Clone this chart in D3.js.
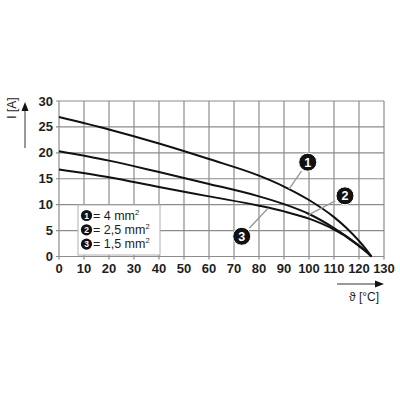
<!DOCTYPE html>
<html>
<head>
<meta charset="utf-8">
<script src="https://cdn.jsdelivr.net/npm/d3@7"></script>
<style>
  html, body { margin: 0; padding: 0; background: #fff; }
  svg { display: block; font-family: "Liberation Sans", Arial, sans-serif; }
</style>
</head>
<body>
<div id="chart"></div>
<script>
// temperature points (°C) and current (A) per conductor cross-section
const temps = [0, 20, 40, 60, 80, 90, 100, 110, 115, 120, 123, 125];
const current4mm = [26.9, 24.5, 21.8, 18.8, 15.6, 13.5, 10.9, 7.6, 5.5, 3.0, 1.3, 0];
const current25mm = [20.3, 18.5, 16.3, 14.0, 11.6, 10.1, 8.2, 5.5, 3.9, 2.1, 0.9, 0];
const current15mm = [16.8, 15.3, 13.4, 11.6, 9.8, 8.7, 7.3, 5.2, 3.8, 2.0, 0.85, 0];

const xTicks = [0, 10, 20, 30, 40, 50, 60, 70, 80, 90, 100, 110, 120, 130];
const yTicks = [0, 5, 10, 15, 20, 25, 30];

const legendLabels = ["4 mm", "2,5 mm", "1,5 mm"];
// curve markers: circle position and leader end, in data units
const markers = [
  { id: "1", cx: 99.5, cy: 18.2, lx: 92, ly: 13.0 },
  { id: "2", cx: 114.4, cy: 11.7, lx: 100, ly: 8.1 },
  { id: "3", cx: 73.1, cy: 3.9, lx: 83.6, ly: 9.3 }
];

const width = 400, height = 400;
const svg = d3.select("#chart").append("svg")
  .attr("width", width)
  .attr("height", height);

const x = d3.scaleLinear().domain([0, 130]).range([59, 384]);
const y = d3.scaleLinear().domain([0, 30]).range([256.5, 101]);

const gridColor = "#8c8c8c";
const textColor = "#1e1e1e";

// grid
const grid = svg.append("g");
grid.selectAll("line.v")
  .data(xTicks)
  .join("line")
  .attr("x1", d => x(d)).attr("x2", d => x(d))
  .attr("y1", y(30)).attr("y2", y(0) + 3)
  .attr("stroke", gridColor)
  .attr("stroke-width", 1.2);
grid.selectAll("line.h")
  .data(yTicks)
  .join("line")
  .attr("x1", x(0) - 3).attr("x2", x(130))
  .attr("y1", d => y(d)).attr("y2", d => y(d))
  .attr("stroke", gridColor)
  .attr("stroke-width", 1.2);

// tick labels
svg.append("g").selectAll("text")
  .data(xTicks)
  .join("text")
  .attr("x", d => x(d))
  .attr("y", y(0) + 16)
  .attr("text-anchor", "middle")
  .attr("font-size", 13)
  .attr("font-weight", "bold")
  .attr("fill", textColor)
  .text(d => d);
svg.append("g").selectAll("text")
  .data(yTicks)
  .join("text")
  .attr("x", x(0) - 6)
  .attr("y", d => y(d) + 4.5)
  .attr("text-anchor", "end")
  .attr("font-size", 13)
  .attr("font-weight", "bold")
  .attr("fill", textColor)
  .text(d => d);

// legend box
const legend = svg.append("g");
legend.append("rect")
  .attr("x", 78).attr("y", 205)
  .attr("width", 82).attr("height", 50)
  .attr("fill", "#fff")
  .attr("stroke", "#b0b0b0");
legendLabels.forEach((label, i) => {
  const ly = 215.5 + i * 14.3;
  legend.append("circle")
    .attr("cx", 86.5).attr("cy", ly).attr("r", 5.6)
    .attr("fill", "#111");
  legend.append("text")
    .attr("x", 86.5).attr("y", ly + 3)
    .attr("text-anchor", "middle")
    .attr("font-size", 8.5).attr("font-weight", "bold")
    .attr("fill", "#fff")
    .text(i + 1);
  const t = legend.append("text")
    .attr("x", 93).attr("y", ly + 4.3)
    .attr("font-size", 12.5)
    .attr("fill", textColor)
    .text("= " + label);
  t.append("tspan")
    .attr("dy", -5).attr("font-size", 7.5)
    .text("2");
});

// curves
const line = d3.line()
  .x(d => x(d[0]))
  .y(d => y(d[1]))
  .curve(d3.curveMonotoneX);
[current4mm, current25mm, current15mm].forEach(series => {
  svg.append("path")
    .datum(temps.map((t, i) => [t, series[i]]))
    .attr("d", line)
    .attr("fill", "none")
    .attr("stroke", "#111")
    .attr("stroke-width", 2);
});

// curve markers with leader lines
const mk = svg.append("g");
markers.forEach(m => {
  const cx = x(m.cx), cy = y(m.cy), lx = x(m.lx), ly = y(m.ly);
  const ang = Math.atan2(ly - cy, lx - cx);
  mk.append("line")
    .attr("x1", cx + Math.cos(ang) * 11).attr("y1", cy + Math.sin(ang) * 11)
    .attr("x2", lx).attr("y2", ly)
    .attr("stroke", "#999")
    .attr("stroke-width", 1.4);
  mk.append("circle")
    .attr("cx", cx).attr("cy", cy).attr("r", 9)
    .attr("fill", "#111")
    .attr("stroke", "#fff")
    .attr("stroke-width", 1);
  mk.append("text")
    .attr("x", cx).attr("y", cy + 4.5)
    .attr("text-anchor", "middle")
    .attr("font-size", 12.5).attr("font-weight", "bold")
    .attr("fill", "#fff")
    .text(m.id);
});

// axis titles with arrows
const arrowColor = "#777";
svg.append("line")
  .attr("x1", 25).attr("y1", 148)
  .attr("x2", 25).attr("y2", 110)
  .attr("stroke", arrowColor).attr("stroke-width", 1.5);
svg.append("path")
  .attr("d", "M25,102 L21.5,111 L28.5,111 Z")
  .attr("fill", "#111");
svg.append("text")
  .attr("transform", "translate(16,108) rotate(-90)")
  .attr("text-anchor", "middle")
  .attr("font-size", 12)
  .attr("fill", textColor)
  .text("I [A]");

svg.append("line")
  .attr("x1", 337).attr("y1", 284)
  .attr("x2", 375).attr("y2", 284)
  .attr("stroke", arrowColor).attr("stroke-width", 1.5);
svg.append("path")
  .attr("d", "M384,284 L375,280.5 L375,287.5 Z")
  .attr("fill", "#111");
svg.append("text")
  .attr("x", 364).attr("y", 301)
  .attr("text-anchor", "middle")
  .attr("font-size", 12)
  .attr("fill", textColor)
  .text("ϑ [°C]");
</script>
</body>
</html>
